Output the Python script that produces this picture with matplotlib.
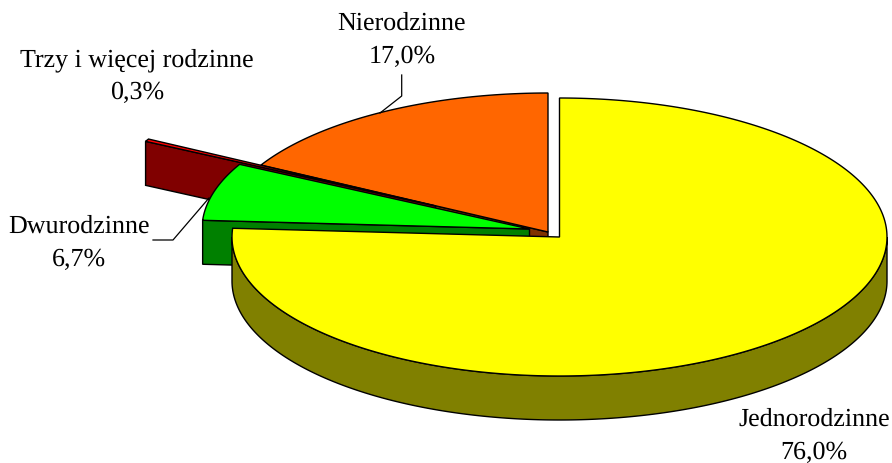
import numpy as np
from matplotlib import pyplot as plt
from matplotlib.patches import Polygon

plt.rcParams['font.family'] = ['Liberation Serif', 'DejaVu Sans']
plt.rcParams['text.hinting'] = 'no_hinting'
plt.rcParams['text.hinting_factor'] = 1

# shares in percent, clockwise from 12 o'clock
names = ['Jednorodzinne', 'Dwurodzinne', 'Trzy i więcej rodzinne', 'Nierodzinne']
shares = [76.0, 6.7, 0.3, 17.0]
share_labels = ['76,0%', '6,7%', '0,3%', '17,0%']

top_colors = ['#ffff00', '#00ff00', '#ff0000', '#ff6600']
side_colors = ['#808000', '#008000', '#800000', '#803300']

# exploded centre of each slice, in pixels
centres = [(559.5, 237), (529.5, 229), (435.5, 206), (548, 232)]
label_pos = [(814, 436), (79, 243), (137, 76), (402, 40)]

A, B = 327.5, 139   # ellipse half axes
DEPTH = 44
LW = 1.0


def arc(c, t1, t2, dy=0):
    t = np.radians(np.linspace(t1, t2, 300))
    return np.column_stack([c[0] + A * np.cos(t), c[1] - B * np.sin(t) + dy])


fig = plt.figure(figsize=(8.92, 4.63), dpi=100)
ax = fig.add_axes([0, 0, 1, 1])
ax.set_xlim(0, 892)
ax.set_ylim(463, 0)
ax.axis('off')

# start/end angle of each slice
ends = 90 - np.cumsum(shares) * 3.6
starts = np.r_[90, ends[:-1]]

# back to front, the same order the overlaps have in the picture
for i in [3, 2, 1, 0]:
    c = centres[i]
    rim = arc(c, starts[i], ends[i])

    # the cut face at the start of a slice looks at the viewer on the left side
    if i != 0:
        p = rim[0]
        face = [c, p, (p[0], p[1] + DEPTH), (c[0], c[1] + DEPTH)]
        ax.add_patch(Polygon(face, closed=True, fc=side_colors[i], ec='black', lw=LW))

    # outer wall, only the front half of the ellipse shows
    if i == 0:
        front = arc(c, -180, 0)
        back = arc(c, 0, -180, DEPTH)
        ax.add_patch(Polygon(np.vstack([front, back]), closed=True,
                             fc=side_colors[i], ec='black', lw=LW))

    ax.add_patch(Polygon(np.vstack([[c], rim]), closed=True,
                         fc=top_colors[i], ec='black', lw=LW, joinstyle='miter'))

# leader lines
ax.plot([401.7, 401.7, 380], [75, 96, 113], color='black', lw=0.9)
ax.plot([153, 173, 209], [240, 240, 198], color='black', lw=0.9)

for name, lab, pos in zip(names, share_labels, label_pos):
    ax.text(pos[0], pos[1], name + '\n' + lab, ha='center', va='center',
            fontsize=18.8, linespacing=1.5, color='black')

fig.savefig('out.png', dpi=100)
